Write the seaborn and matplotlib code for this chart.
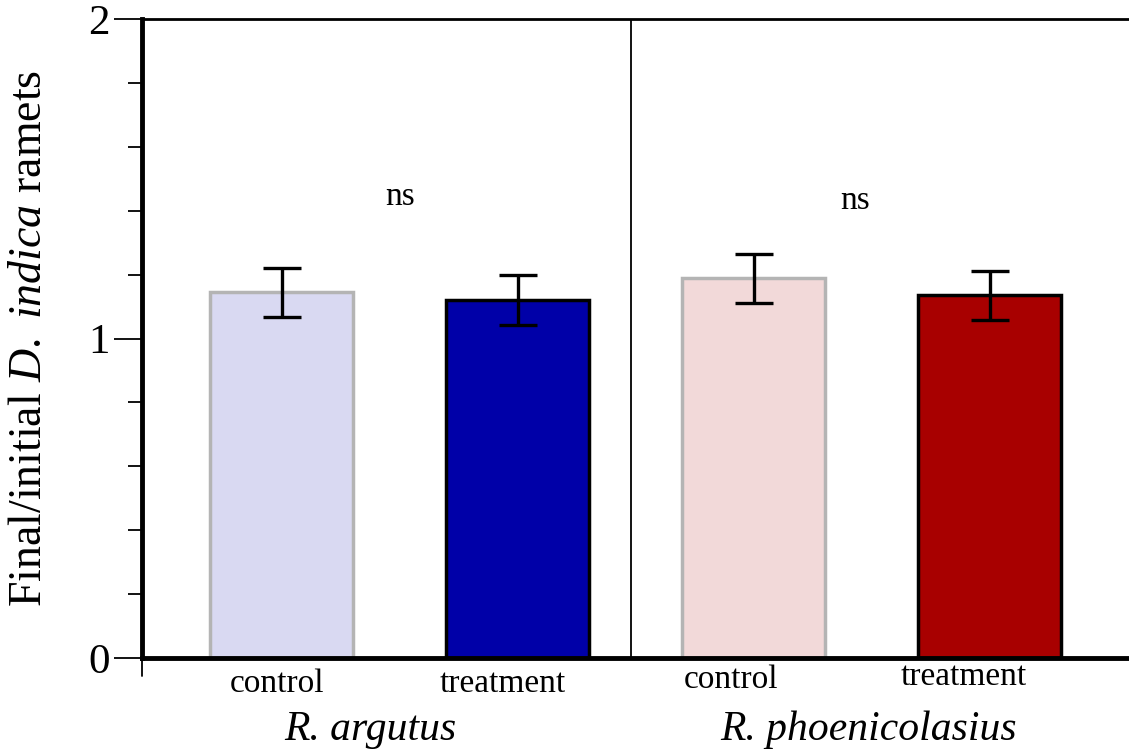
import matplotlib
matplotlib.use("Agg")
import matplotlib.pyplot as plt
import seaborn as sns
import pandas as pd
import numpy as np

# ---- data ----
species = ["R. argutus", "R. argutus", "R. phoenicolasius", "R. phoenicolasius"]
groups = ["control", "treatment", "control", "treatment"]
means = [1.145, 1.120, 1.188, 1.135]
errors = [0.077, 0.078, 0.077, 0.077]
fill_colors = ["#d9d9f2", "#0000a8", "#f2d9d9", "#a80000"]
edge_colors = ["#b4b4b4", "#000000", "#b4b4b4", "#000000"]
y_ticks_major = [0, 1, 2]
y_ticks_minor = [0.2, 0.4, 0.6, 0.8, 1.2, 1.4, 1.6, 1.8]

sns.set_theme(style="white")
plt.rcParams["font.family"] = ["Liberation Serif", "DejaVu Serif"]
plt.rcParams["mathtext.fontset"] = "custom"
plt.rcParams["mathtext.rm"] = "Liberation Serif"
plt.rcParams["mathtext.it"] = "Liberation Serif:italic"
plt.rcParams["text.color"] = "black"
plt.rcParams["axes.labelcolor"] = "black"
plt.rcParams["ytick.color"] = "black"

df = pd.DataFrame({"pos": [f"{s}|{g}" for s, g in zip(species, groups)],
                   "mean": means})

W, H = 1129, 756
fig = plt.figure(figsize=(W / 100, H / 100), dpi=100)
ax = fig.add_axes([142 / W, (H - 658) / H, (W - 142) / W, (658 - 19) / H])

sns.barplot(data=df, x="pos", y="mean", hue="pos", palette=fill_colors,
            order=df["pos"], hue_order=df["pos"], width=0.606,
            saturation=1, legend=False, ax=ax, errorbar=None)
for i, patch in enumerate(ax.patches):
    patch.set_edgecolor(edge_colors[i])
    patch.set_linewidth(2.5)

x = np.arange(len(means))
ax.errorbar(x, means, yerr=errors, fmt="none", ecolor="black",
            elinewidth=2.4, capsize=14, capthick=2.4, zorder=5)

ax.set_xlim(-0.593, 3.59)
ax.set_ylim(0, 2)

# spines
for s in ["left", "bottom", "top"]:
    ax.spines[s].set_visible(True)
    ax.spines[s].set_color("black")
ax.spines["left"].set_linewidth(3.5)
ax.spines["bottom"].set_linewidth(3.5)
ax.spines["top"].set_linewidth(2)
ax.spines["right"].set_visible(False)

ax.axvline(1.479, color="black", linewidth=1.3)

ax.set_yticks(y_ticks_major)
ax.set_yticklabels([str(v) for v in y_ticks_major], fontsize=31)
ax.set_yticks(y_ticks_minor, minor=True)
ax.tick_params(axis="y", which="major", direction="out", length=20, width=1.3,
               left=True, pad=3, colors="black")
ax.tick_params(axis="y", which="minor", direction="out", length=10, width=1.3,
               left=True)
ax.set_xticks([])
ax.set_xlabel("")
ax.set_ylabel(r"Final/initial $\mathit{D.}$ $\mathit{indica}$ ramets",
              fontsize=33, labelpad=27)

# small tick at the origin below the x axis
ax.plot([-0.593, -0.593], [0, -0.055], color="black", linewidth=1.3,
        clip_on=False)

# group labels
label_x = [-0.02, 0.935, 1.905, 2.89]
label_y = [-0.08, -0.08, -0.068, -0.06]
for lx, ly, g in zip(label_x, label_y, groups):
    ax.text(lx, ly, g, ha="center", va="center", fontsize=24)

species_names = ["R. argutus", "R. phoenicolasius"]
species_x = [0.375, 2.485]
for sx, sp in zip(species_x, species_names):
    ax.text(sx, -0.225, sp, ha="center", va="center", fontsize=30,
            style="italic")

# significance
ns_x = [0.5, 2.43]
ns_y = [1.443, 1.432]
for nx, ny in zip(ns_x, ns_y):
    ax.text(nx, ny, "ns", ha="center", va="center", fontsize=24)

fig.savefig("out.png", dpi=100)
